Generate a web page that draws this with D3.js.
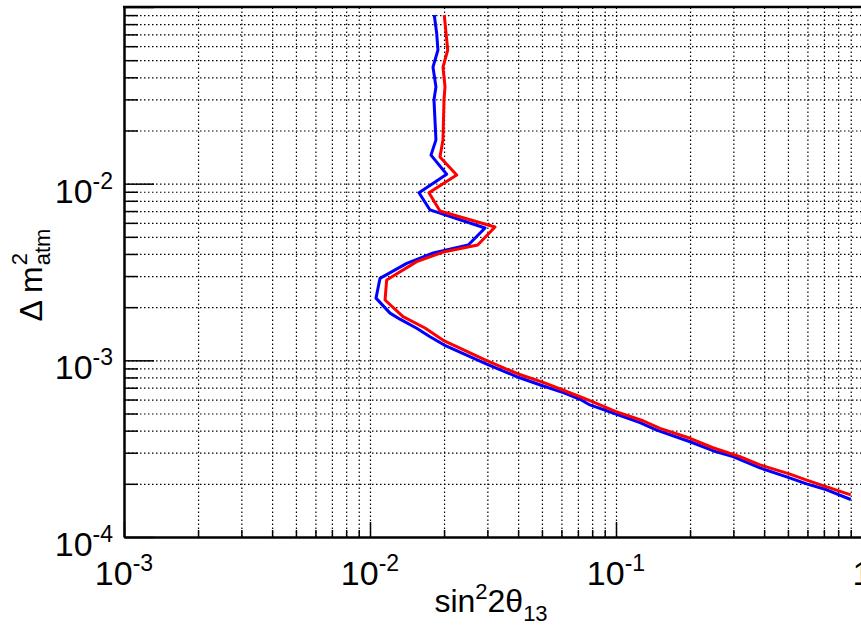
<!DOCTYPE html>
<html>
<head>
<meta charset="utf-8">
<script src="https://cdn.jsdelivr.net/npm/d3@7"></script>
<style>
  body { margin: 0; background: #fff; }
  svg { display: block; font-family: "Liberation Sans", Arial, Helvetica, sans-serif; }
</style>
</head>
<body>
<div id="chart"></div>
<script>
// blue contour (sin^2 2theta13 vs dm2_atm), read top to bottom
const blueDm2 = [0.0901, 0.0713, 0.0571, 0.0457, 0.0353, 0.0298, 0.0177, 0.0145, 0.0113, 0.00889,
  0.00710, 0.00561, 0.00450, 0.00405, 0.00354, 0.00291, 0.00225, 0.00185, 0.00171, 0.00152,
  0.00136, 0.00122, 0.000953, 0.000802, 0.000716, 0.000656, 0.000602, 0.000559, 0.000497, 0.000444,
  0.000403, 0.000346, 0.000308, 0.000285, 0.000246, 0.000219, 0.000200, 0.000185, 0.000163];
const blueSin = [0.01825, 0.01866, 0.01889, 0.01803, 0.01854, 0.01820, 0.01854, 0.01770, 0.02050, 0.01582,
  0.01754, 0.02935, 0.02509, 0.01808, 0.01410, 0.01098, 0.01058, 0.01206, 0.01324, 0.01548,
  0.01754, 0.02004, 0.02982, 0.04006, 0.05064, 0.06106, 0.07141, 0.07834, 0.1000, 0.1252,
  0.1464, 0.2000, 0.2478, 0.2989, 0.3848, 0.4942, 0.5957, 0.7186, 0.8999];

// red contour
const redDm2 = [0.0901, 0.0713, 0.0571, 0.0457, 0.0353, 0.0298, 0.0177, 0.01416, 0.01119, 0.00889,
  0.00700, 0.00568, 0.00450, 0.00410, 0.00362, 0.00285, 0.002195, 0.001766, 0.001524, 0.001287,
  0.000995, 0.000837, 0.000751, 0.000622, 0.000591, 0.000512, 0.000455, 0.000412, 0.000362, 0.000320,
  0.000285, 0.000256, 0.000227, 0.000210, 0.000173];
const redSin = [0.02004, 0.02037, 0.02070, 0.01980, 0.02018, 0.01999, 0.01980, 0.01925, 0.02251, 0.01737,
  0.01925, 0.03222, 0.02741, 0.01986, 0.01548, 0.01169, 0.01151, 0.01362, 0.01673, 0.02004,
  0.02982, 0.04006, 0.05064, 0.07141, 0.07834, 0.1000, 0.1288, 0.1510, 0.2000, 0.2478,
  0.3191, 0.3848, 0.5098, 0.5957, 0.8999];

const xDecades = [-3, -2, -1, 0];
const yDecades = [-4, -3, -2, -1];
const yLabelDecades = [-4, -3, -2];

const svgW = 861, svgH = 627;
const plotL = 124, plotR = 862, plotT = 7, plotB = 537;
const font = "'Liberation Sans', Arial, Helvetica, sans-serif";

const svg = d3.select('#chart').append('svg')
    .attr('width', svgW)
    .attr('height', svgH);

const x = d3.scaleLog().domain([1e-3, 1]).range([plotL, plotR]);
const y = d3.scaleLog().domain([1e-4, 1e-1]).range([plotB, plotT]);

function logTicks(decs) {
    let t = [];
    for (let i = 0; i < decs.length - 1; i++) {
        for (let m = 1; m <= 9; m++) t.push(m * Math.pow(10, decs[i]));
    }
    t.push(Math.pow(10, decs[decs.length - 1]));
    return t;
}
const isMajor = d => Math.abs(Math.log10(d) - Math.round(Math.log10(d))) < 1e-6;

const xTicks = logTicks(xDecades);
const yTicks = logTicks(yDecades);

// dotted grid
const gx = svg.append('g')
    .attr('transform', `translate(0,${plotB})`)
    .call(d3.axisBottom(x).tickValues(xTicks.filter(d => d > 1e-3)).tickSize(-(plotB - plotT)).tickFormat(''));
const gy = svg.append('g')
    .attr('transform', `translate(${plotL},0)`)
    .call(d3.axisLeft(y).tickValues(yTicks.filter(d => d > 1e-4)).tickSize(-(plotR - plotL)).tickFormat(''));
[gx, gy].forEach(g => {
    g.select('.domain').remove();
    g.selectAll('.tick line')
        .attr('stroke', '#000')
        .attr('stroke-width', 1.2)
        .attr('stroke-dasharray', '1.5,2.5');
});

// curves
const line = d3.line()
    .x(d => x(d[0]))
    .y(d => y(d[1]));

svg.append('path')
    .datum(d3.zip(blueSin, blueDm2))
    .attr('fill', 'none')
    .attr('stroke', '#0000ff')
    .attr('stroke-width', 3)
    .attr('stroke-linejoin', 'round')
    .attr('d', line);

svg.append('path')
    .datum(d3.zip(redSin, redDm2))
    .attr('fill', 'none')
    .attr('stroke', '#ff0000')
    .attr('stroke-width', 3)
    .attr('stroke-linejoin', 'round')
    .attr('d', line);

// axes with inward ticks
const ax = svg.append('g')
    .attr('transform', `translate(0,${plotB})`)
    .call(d3.axisBottom(x).tickValues(xTicks).tickSizeOuter(0).tickFormat(''));
ax.selectAll('.tick line')
    .attr('stroke-width', 1.5)
    .attr('y2', d => isMajor(d) ? -15 : -7);
ax.select('.domain').attr('stroke-width', 2.5);

const ay = svg.append('g')
    .attr('transform', `translate(${plotL},0)`)
    .call(d3.axisLeft(y).tickValues(yTicks).tickSizeOuter(0).tickFormat(''));
ay.selectAll('.tick line')
    .attr('stroke-width', 1.5)
    .attr('x2', d => isMajor(d) ? 30 : 14);
ay.select('.domain').attr('stroke-width', 2.5);

// top frame line
svg.append('line')
    .attr('x1', plotL - 1).attr('x2', plotR)
    .attr('y1', plotT).attr('y2', plotT)
    .attr('stroke', '#000')
    .attr('stroke-width', 2.5);

// tick labels
function powLabel(sel, d) {
    const e = Math.round(Math.log10(d));
    if (e === 0) {
        sel.append('tspan').text('1');
        return;
    }
    sel.append('tspan').text('10');
    sel.append('tspan').attr('font-size', 23).attr('dy', -14).text(e);
}

xDecades.forEach(e => {
    const v = Math.pow(10, e);
    const t = svg.append('text')
        .attr('x', x(v))
        .attr('y', 585)
        .attr('text-anchor', 'middle')
        .attr('font-size', 34)
        .attr('font-family', font);
    powLabel(t, v);
});

yLabelDecades.forEach(e => {
    const v = Math.pow(10, e);
    const t = svg.append('text')
        .attr('x', 113)
        .attr('y', y(v) + 19)
        .attr('text-anchor', 'end')
        .attr('font-size', 34)
        .attr('font-family', font);
    powLabel(t, v);
});

// x title: sin^2 2theta_13
const xt = svg.append('text')
    .attr('x', (plotL + plotR) / 2 - 2)
    .attr('y', 612)
    .attr('text-anchor', 'middle')
    .attr('font-size', 32)
    .attr('font-family', font);
xt.append('tspan').text('sin');
xt.append('tspan').attr('font-size', 22).attr('dy', -13).text('2');
xt.append('tspan').attr('dy', 13).text('2θ');
xt.append('tspan').attr('font-size', 22).attr('dy', 9).text('13');

// y title: Delta m^2_atm
const yt = svg.append('g')
    .attr('transform', 'translate(42,275) rotate(-90)');
const main = yt.append('text')
    .attr('font-size', 32)
    .attr('font-family', font)
    .text('Δ m');
const w1 = main.node().getComputedTextLength();
yt.append('text')
    .attr('x', w1 + 1).attr('y', -15)
    .attr('font-size', 22)
    .attr('font-family', font)
    .text('2');
const sub = yt.append('text')
    .attr('x', w1 + 1).attr('y', 8)
    .attr('font-size', 22)
    .attr('font-family', font)
    .text('atm');
const total = w1 + 1 + sub.node().getComputedTextLength();
yt.selectAll('text').attr('transform', `translate(${-total / 2},0)`);
</script>
</body>
</html>
